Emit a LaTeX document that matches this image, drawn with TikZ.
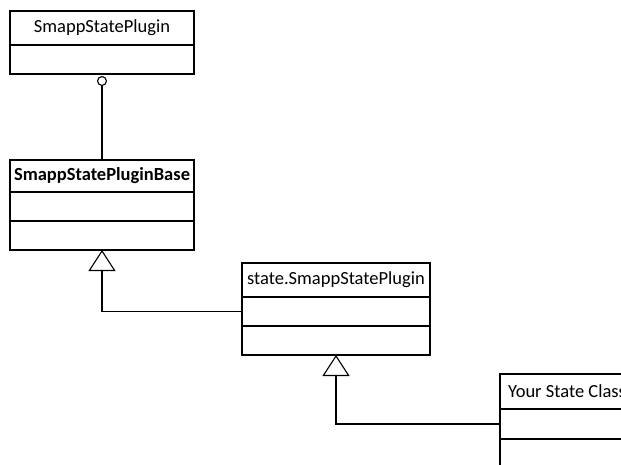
\documentclass[tikz,border=0pt]{standalone}
\usepackage{fontspec}
\setmainfont{Carlito}
\usetikzlibrary{positioning}
\usetikzlibrary{arrows.meta}

\tikzset{
  classname/.style={draw, line width=1.5pt, minimum width=184pt, minimum height=34pt,
    inner sep=0pt, outer sep=0pt, font=\fontsize{18.5}{21}\selectfont},
  compart/.style={draw, line width=1.5pt, minimum width=184pt, minimum height=29pt,
    inner sep=0pt, outer sep=0pt},
  inherit/.style={line width=1.1pt, -{Triangle[open, length=21pt, width=27pt]}},
  realize/.style={line width=1.1pt, shorten >=2pt, -{Circle[open, length=10pt]}}
}

\begin{document}
\begin{tikzpicture}[x=1pt, y=-1pt]
  \useasboundingbox (0,0) rectangle (621,464);
  \clip (0,0) rectangle (621,464);

  % interface
  \node[classname, anchor=north west] (plugin) at (10,11) {SmappStatePlugin};
  \node[compart, below=0pt of plugin] (plugin-attr) {};

  % abstract base
  \node[classname, anchor=north west, minimum height=32pt,
    font=\fontsize{18.5}{21}\selectfont\bfseries] (base) at (10,160) {SmappStatePluginBase};
  \node[compart, below=0pt of base] (base-attr) {};
  \node[compart, below=0pt of base-attr] (base-ops) {};

  % state package plugin
  \node[classname, anchor=north west, minimum width=188pt] (spl) at (242,263) {state.SmappStatePlugin};
  \node[compart, minimum width=188pt, below=0pt of spl] (spl-attr) {};
  \node[compart, minimum width=188pt, below=0pt of spl-attr] (spl-ops) {};

  % user class, runs off the page
  \node[classname, anchor=north west, minimum width=134pt, minimum height=35pt] (yours) at (500,374) {Your State Class};
  \node[compart, minimum width=134pt, minimum height=30pt, below=0pt of yours] (yours-attr) {};
  \node[compart, minimum width=134pt, minimum height=30pt, below=0pt of yours-attr] (yours-ops) {};

  \draw[realize] (base.north) -- (plugin-attr.south);
  \draw[inherit] (spl-attr.west) -| (base-ops.south);
  \draw[inherit] (yours-attr.west) -| (spl-ops.south);
\end{tikzpicture}
\end{document}
